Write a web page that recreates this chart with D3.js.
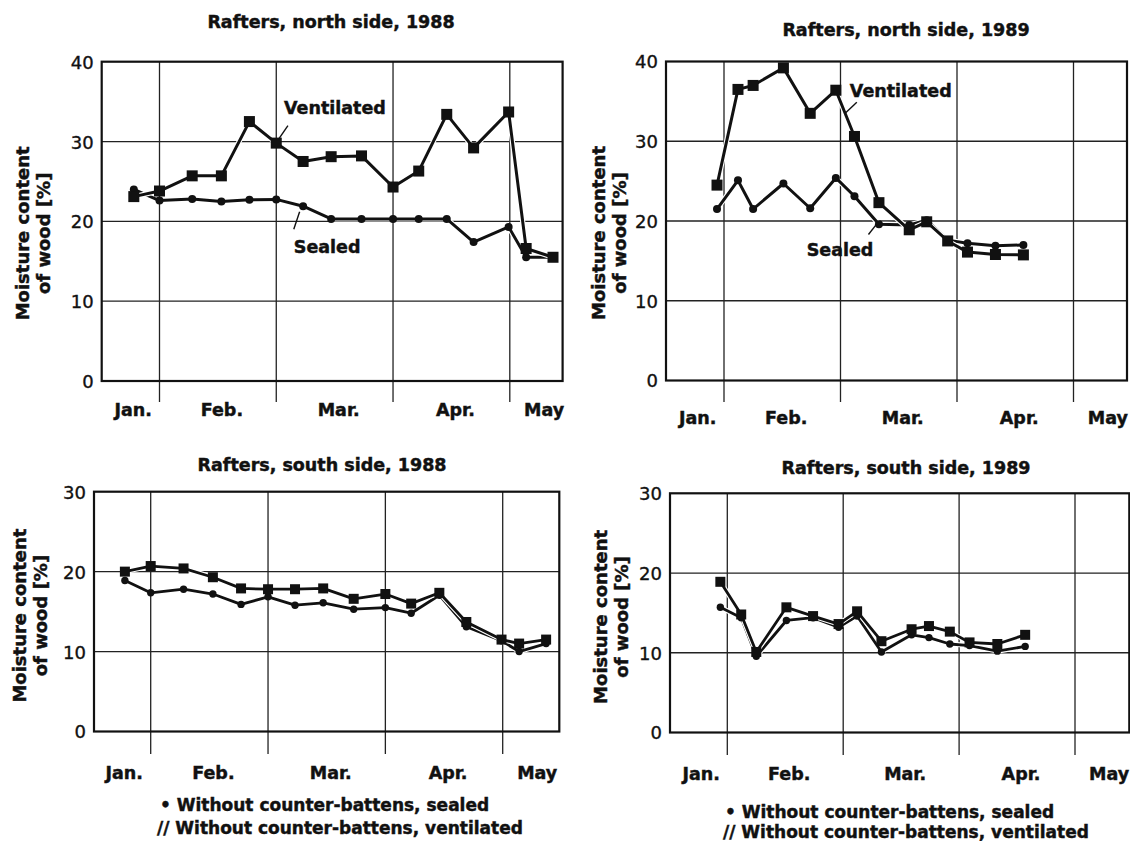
<!DOCTYPE html>
<html>
<head>
<meta charset="utf-8">
<script src="https://cdn.jsdelivr.net/npm/d3@7"></script>
<style>
  html, body { margin: 0; padding: 0; background: #fff; }
  svg { display: block; }
  text { fill: #111; font-family: "DejaVu Sans", sans-serif; }
  text.heavy { stroke: #111; stroke-width: 0.45; font-weight: bold; }
</style>
</head>
<body>
<svg id="chart" width="1130" height="841"></svg>
<script>
// Measurement dates, in months from 1 January (1 = 1 Feb, 2 = 1 Mar, ...)
const months1988 = [0.78, 1.00, 1.28, 1.53, 1.77, 2.00, 2.23, 2.47, 2.73, 3.00, 3.22, 3.46, 3.69, 3.99, 4.14, 4.37];
const months1989 = [0.94, 1.12, 1.25, 1.51, 1.74, 1.96, 2.12, 2.33, 2.59, 2.74, 2.92, 3.09, 3.33, 3.57];

// Moisture content of wood [%]
const northSealed1988 = [24.0, 22.6, 22.8, 22.5, 22.7, 22.75, 21.9, 20.3, 20.3, 20.3, 20.3, 20.3, 17.4, 19.3, 15.5, 15.5];
const northVent1988   = [23.1, 23.8, 25.7, 25.7, 32.5, 29.8, 27.5, 28.1, 28.2, 24.3, 26.3, 33.4, 29.2, 33.7, 16.6, 15.5];
const northSealed1989 = [21.5, 25.1, 21.5, 24.7, 21.6, 25.4, 23.1, 19.6, 19.5, 20.1, 17.6, 17.2, 16.9, 17.0];
const northVent1989   = [24.5, 36.5, 37.0, 39.2, 33.5, 36.4, 30.6, 22.3, 18.9, 19.9, 17.5, 16.1, 15.8, 15.75];
const southSealed1988 = [18.9, 17.35, 17.8, 17.2, 15.9, 16.85, 15.8, 16.1, 15.3, 15.5, 14.8, 17.05, 13.1, 11.35, 10.0, 11.0];
const southVent1988   = [20.0, 20.7, 20.4, 19.3, 17.9, 17.8, 17.8, 17.9, 16.6, 17.2, 16.0, 17.35, 13.7, 11.5, 11.0, 11.5];
const southSealed1989 = [15.7, 14.4, 9.55, 14.05, 14.4, 13.2, 14.6, 10.1, 12.25, 11.9, 11.1, 10.9, 10.2, 10.8];
const southVent1989   = [18.9, 14.8, 10.1, 15.7, 14.6, 13.6, 15.2, 11.45, 12.95, 13.35, 12.65, 11.3, 11.1, 12.25];

// Axis labels
const monthNames = ["Jan.", "Feb.", "Mar.", "Apr.", "May"];
const monthLabelAt = [0.77, 1.53, 2.53, 3.53, 4.29];
const monthBounds = [1, 2, 3, 4];
const yTicksNorth = [0, 10, 20, 30, 40];
const yTicksSouth = [0, 10, 20, 30];
const titles = ["Rafters, north side, 1988", "Rafters, north side, 1989",
                "Rafters, south side, 1988", "Rafters, south side, 1989"];
const legendLines = ["\u2022 Without counter-battens, sealed", "// Without counter-battens, ventilated"];

// Panel frames (pixels) and decoration placement
const panels = [
  { title: titles[0], months: months1988, sealed: northSealed1988, vent: northVent1988, yTicks: yTicksNorth,
    L: 101.7, R: 562.6, T: 61.7, B: 381, g1: 159.5, g4: 509.8, tickEnd: 402,
    titleX: 331, titleY: 28, monthY: 416, yTitleX: [23, 44], yTitleShift: 12, sq: 11, r: 4, lw: 3,
    notes: [ { text: "Ventilated", at: [2.066, 33.4], lead: [[2.10, 32.0], [2.02, 30.3]] },
             { text: "Sealed", at: [2.15, 16.0], lead: [[2.15, 19.0], [2.20, 21.2]] } ] },
  { title: titles[1], months: months1989, sealed: northSealed1989, vent: northVent1989, yTicks: yTicksNorth,
    L: 666, R: 1127, T: 61.5, B: 380.5, g1: 724, g4: 1073.5, tickEnd: 402,
    titleX: 906, titleY: 36, monthY: 424, yTitleX: [599, 620], yTitleShift: 12, sq: 11, r: 4, lw: 3,
    notes: [ { text: "Ventilated", at: [2.08, 35.6], lead: [[2.14, 34.9], [2.04, 33.5]] },
             { text: "Sealed", at: [1.71, 15.6], lead: [[2.24, 18.3], [2.31, 19.6]] } ] },
  { title: titles[2], months: months1988, sealed: southSealed1988, vent: southVent1988, yTicks: yTicksSouth,
    L: 94, R: 559.3, T: 491.7, B: 731.5, g1: 150.7, g4: 502.7, tickEnd: 754,
    titleX: 322, titleY: 471, monthY: 779, yTitleX: [20, 41], yTitleShift: 4, sq: 10, r: 3.7, lw: 2.8,
    legend: { x: [160, 157], y: [811, 834] }, notes: [] },
  { title: titles[3], months: months1989, sealed: southSealed1989, vent: southVent1989, yTicks: yTicksSouth,
    L: 670, R: 1129.3, T: 493.3, B: 732.5, g1: 727.3, g4: 1075, tickEnd: 755,
    titleX: 906, titleY: 474, monthY: 780, yTitleX: [601, 622], yTitleShift: 4, sq: 10, r: 3.7, lw: 2.8,
    legend: { x: [725, 723], y: [818, 838] }, notes: [] }
];

const svg = d3.select("#chart");
const FONT = 17.5;

panels.forEach(p => {
  const g = svg.append("g");
  const x = d3.scaleLinear().domain([1, 4]).range([p.g1, p.g4]);
  const yMax = d3.max(p.yTicks);
  const y = d3.scaleLinear().domain([0, yMax]).range([p.B, p.T]);

  // title
  g.append("text").attr("class", "heavy").attr("x", p.titleX).attr("y", p.titleY)
    .attr("text-anchor", "middle").attr("font-size", FONT)
    .text(p.title);

  // horizontal grid
  g.append("g").selectAll("line").data(p.yTicks.filter(v => v > 0 && v < yMax)).join("line")
    .attr("x1", p.L).attr("x2", p.R).attr("y1", d => y(d)).attr("y2", d => y(d))
    .attr("stroke", "#222").attr("stroke-width", 1.3);

  // month boundaries, extended below the frame as ticks
  g.append("g").selectAll("line").data(monthBounds).join("line")
    .attr("x1", d => x(d)).attr("x2", d => x(d)).attr("y1", p.T).attr("y2", p.tickEnd)
    .attr("stroke", "#222").attr("stroke-width", 1.3);

  // frame
  g.append("rect").attr("x", p.L).attr("y", p.T).attr("width", p.R - p.L).attr("height", p.B - p.T)
    .attr("fill", "none").attr("stroke", "#111").attr("stroke-width", 2.2);

  // y axis labels
  const yAxis = d3.axisLeft(y).tickValues(p.yTicks).tickSize(0).tickPadding(0).tickFormat(d3.format("d"));
  const ya = g.append("g").attr("transform", `translate(${p.L - 8},0)`).call(yAxis);
  ya.select(".domain").remove();
  ya.selectAll("text").attr("font-size", 18).attr("font-family", "DejaVu Sans Condensed, DejaVu Sans, sans-serif")
    .attr("fill", "#111").attr("stroke", "#111").attr("stroke-width", 0.35).attr("dy", "0.36em");

  // month labels
  const xAxis = d3.axisBottom(x).tickValues(monthLabelAt).tickSize(0).tickPadding(0)
    .tickFormat((d, i) => monthNames[i]);
  const xa = g.append("g").attr("transform", `translate(0,${p.monthY})`).call(xAxis);
  xa.select(".domain").remove();
  xa.selectAll("text").attr("class", "heavy").attr("y", 0).attr("dy", 0).attr("font-size", FONT)
    .attr("font-family", "DejaVu Sans, sans-serif").attr("fill", "#111");

  // y axis title
  const cy = (p.T + p.B) / 2 + p.yTitleShift;
  ["Moisture content", "of wood [%]"].forEach((t, i) => {
    g.append("text").attr("class", "heavy").attr("transform", `translate(${p.yTitleX[i] + 6},${cy}) rotate(-90)`)
      .attr("text-anchor", "middle").attr("font-size", 18).text(t);
  });

  // series
  const line = d3.line().x(d => x(d[0])).y(d => y(d[1]));
  const sealedPts = p.months.map((m, i) => [m, p.sealed[i]]);
  const ventPts = p.months.map((m, i) => [m, p.vent[i]]);
  [sealedPts, ventPts].forEach(pts => {
    g.append("path").datum(pts).attr("d", line).attr("fill", "none")
      .attr("stroke", "#fff").attr("stroke-width", p.lw + 2.2).attr("stroke-linejoin", "round");
    g.append("path").datum(pts).attr("d", line).attr("fill", "none")
      .attr("stroke", "#111").attr("stroke-width", p.lw).attr("stroke-linejoin", "round");
  });
  g.append("g").selectAll("circle").data(sealedPts).join("circle")
    .attr("cx", d => x(d[0])).attr("cy", d => y(d[1])).attr("r", p.r).attr("fill", "#111");
  g.append("g").selectAll("rect").data(ventPts).join("rect")
    .attr("x", d => x(d[0]) - p.sq / 2).attr("y", d => y(d[1]) - p.sq / 2)
    .attr("width", p.sq).attr("height", p.sq).attr("fill", "#111");

  // series annotations with leader lines
  p.notes.forEach(n => {
    g.append("line").attr("x1", x(n.lead[0][0])).attr("y1", y(n.lead[0][1]))
      .attr("x2", x(n.lead[1][0])).attr("y2", y(n.lead[1][1]))
      .attr("stroke", "#111").attr("stroke-width", 1.4);
    g.append("text").attr("class", "heavy").attr("x", x(n.at[0])).attr("y", y(n.at[1]))
      .attr("font-size", FONT).text(n.text);
  });

  // legend
  if (p.legend) {
    legendLines.forEach((t, i) => {
      g.append("text").attr("class", "heavy").attr("x", p.legend.x[i]).attr("y", p.legend.y[i])
        .attr("font-size", 17).text(t);
    });
  }
});
</script>
</body>
</html>
